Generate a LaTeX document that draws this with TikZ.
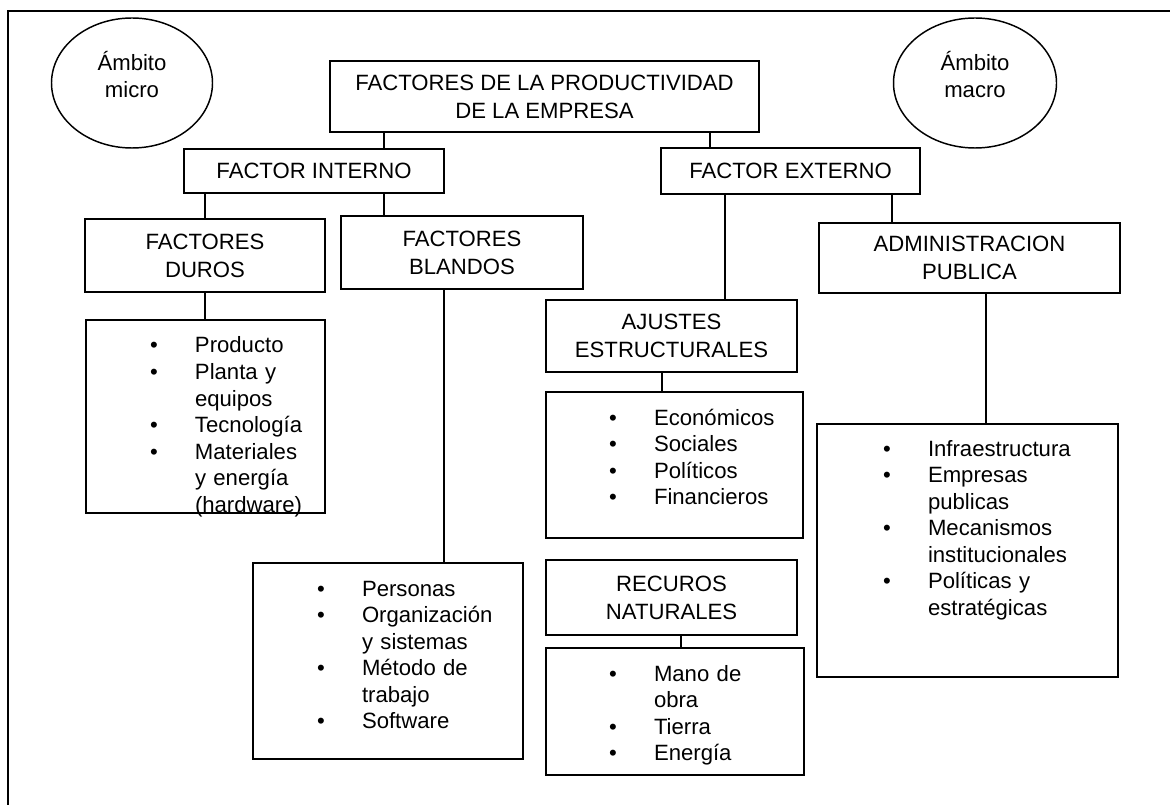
\documentclass[tikz,border=0pt]{standalone}
\usepackage{fontspec}
\setmainfont{Liberation Sans}
\usetikzlibrary{shapes.geometric}

% bullet item helpers: bullet followed by a fixed indent, and the indent alone
\newcommand{\bul}{\makebox[33.75pt][l]{\textbullet}}
\newcommand{\cont}{\hspace*{33.75pt}}
\newcommand{\titlefont}{\fontsize{16.6}{21}\selectfont}
\newcommand{\listfont}{\fontsize{16.6}{19.9}\selectfont}

\tikzset{
  sz/.style 2 args={minimum width=#1*0.75pt, minimum height=#2*0.75pt},
  box/.style={draw, rectangle, line width=1.1pt, inner sep=0pt, outer sep=0pt,
              align=center, font=\titlefont},
  listbox/.style={draw, rectangle, line width=1.1pt, inner sep=0pt, outer sep=0pt},
  items/.style={anchor=base west, inner sep=0pt, outer sep=0pt, text width=260pt,
                align=left, font=\listfont},
  scope/.style={draw, ellipse, line width=1.1pt, inner sep=0pt},
  scopetext/.style={align=center, inner sep=0pt, font=\fontsize{16.6}{20}\selectfont},
  wire/.style={line width=1.1pt},
  frameline/.style={line width=1.4pt}
}

\begin{document}
\begin{tikzpicture}[x=0.75pt, y=-0.75pt]
\useasboundingbox (0,0) rectangle (1170,805);

% page frame, running past the right and bottom edges
\draw[frameline] (8,11) rectangle (1180,815);

% scope ellipses
\node[scope, sz={161}{130}] (micro) at (132,83) {};
\node[scopetext] (microtxt) at (132,74.5) {Ámbito\\micro};
\node[scope, sz={163}{130}] (macro) at (975,83) {};
\node[scopetext] (macrotxt) at (975,74.5) {Ámbito\\macro};

% headings
\node[box, sz={429}{71}] (top) at (544.5,96.5) {FACTORES DE LA PRODUCTIVIDAD\\DE LA EMPRESA};
\node[box, sz={260}{44}] (fi) at (314,171) {FACTOR INTERNO};
\node[box, sz={259}{46}] (fe) at (790.5,171) {FACTOR EXTERNO};
\node[box, sz={240}{73}] (duros) at (205,255.5) {FACTORES\\DUROS};
\node[box, sz={242}{73}] (blandos) at (462,252.5) {FACTORES\\BLANDOS};
\node[box, sz={301}{70}] (admin) at (969.5,258) {ADMINISTRACION\\PUBLICA};
\node[box, sz={251}{72}] (ajustes) at (671.5,336) {AJUSTES\\ESTRUCTURALES};
\node[box, sz={251}{75}] (recursos) at (671.5,597.5) {RECUROS\\NATURALES};

% list boxes
\node[listbox, sz={239}{193}] (lduros) at (205.5,416.5) {};
\node[listbox, sz={270}{196}] (lblandos) at (388,661) {};
\node[listbox, sz={257}{146}] (lajustes) at (674.5,465) {};
\node[listbox, sz={258}{127}] (lrecursos) at (675,711.5) {};
\node[listbox, sz={301}{253}] (ladmin) at (967.5,550.5) {};

% list contents
\node[items] (tduros) at (150,353) {\bul Producto\\\bul Planta y\\\cont equipos\\\bul Tecnología\\\bul Materiales\\\cont y energía\\\cont (hardware)};
\node[items] (tblandos) at (317,596) {\bul Personas\\\bul Organización\\\cont y sistemas\\\bul Método de\\\cont trabajo\\\bul Software};
\node[items] (tajustes) at (609,425) {\bul Económicos\\\bul Sociales\\\bul Políticos\\\bul Financieros};
\node[items] (trecursos) at (609,681) {\bul Mano de\\\cont obra\\\bul Tierra\\\bul Energía};
\node[items] (tadmin) at (883,456) {\bul Infraestructura\\\bul Empresas\\\cont publicas\\\bul Mecanismos\\\cont institucionales\\\bul Políticas y\\\cont estratégicas};

% x positions of the vertical connectors
\coordinate (k1) at (384,0);
\coordinate (k2) at (710,0);
\coordinate (k3) at (205,0);
\coordinate (k4) at (725,0);
\coordinate (k5) at (892,0);
\coordinate (k6) at (444,0);
\coordinate (k7) at (662,0);
\coordinate (k8) at (681,0);
\coordinate (k9) at (986,0);

% connectors
\draw[wire] (top.south -| k1) -- (fi.north -| k1);
\draw[wire] (top.south -| k2) -- (fe.north -| k2);
\draw[wire] (fi.south -| k3) -- (duros.north -| k3);
\draw[wire] (fi.south -| k1) -- (blandos.north -| k1);
\draw[wire] (fe.south -| k4) -- (ajustes.north -| k4);
\draw[wire] (fe.south -| k5) -- (admin.north -| k5);
\draw[wire] (duros.south -| k3) -- (lduros.north -| k3);
\draw[wire] (blandos.south -| k6) -- (lblandos.north -| k6);
\draw[wire] (ajustes.south -| k7) -- (lajustes.north -| k7);
\draw[wire] (recursos.south -| k8) -- (lrecursos.north -| k8);
\draw[wire] (admin.south -| k9) -- (ladmin.north -| k9);
\end{tikzpicture}
\end{document}
